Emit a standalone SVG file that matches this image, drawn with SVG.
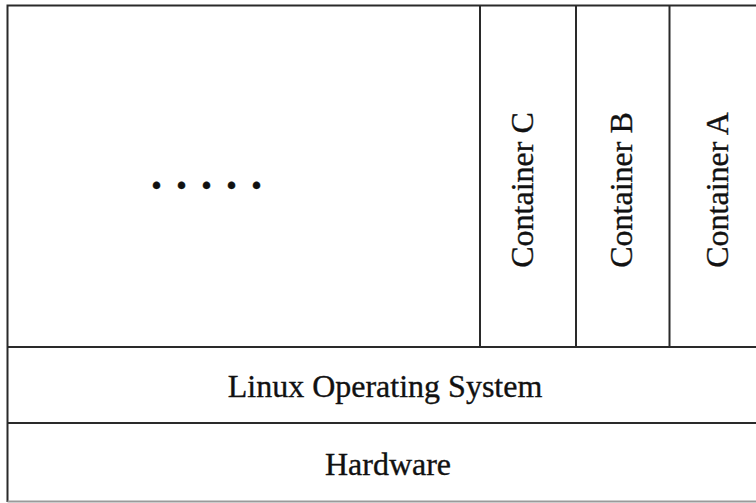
<svg xmlns="http://www.w3.org/2000/svg" width="756" height="503" viewBox="0 0 756 503">
<style>
.ln{stroke:#2a2a2a;stroke-width:2;fill:none}
.t{font-family:"Liberation Serif","Times New Roman",serif;font-size:32px;fill:#111;stroke:#111;stroke-width:0.35}
.v{text-anchor:middle}
</style>
<rect width="756" height="503" fill="#fff"/>
<g id="frame">
<path class="ln" d="M7.5 502V5.5H758"/>
<path d="M7.5 501.5H758" stroke="#9a9a9a" stroke-width="2"/>
</g>
<g id="others">
<text class="t" x="151" y="189" style="font-weight:bold;font-size:44px;letter-spacing:14px">.....</text>
</g>
<g id="containerC">
<line class="ln" x1="480" y1="5.5" x2="480" y2="347"/>
<text class="t v" transform="translate(533,190) rotate(-90)">Container C</text>
</g>
<g id="containerB">
<line class="ln" x1="576" y1="5.5" x2="576" y2="347"/>
<text class="t v" transform="translate(632,190) rotate(-90)">Container B</text>
</g>
<g id="containerA">
<line class="ln" x1="669.5" y1="5.5" x2="669.5" y2="347"/>
<text class="t v" transform="translate(728,190) rotate(-90)">Container A</text>
</g>
<g id="linux">
<line class="ln" x1="7.5" y1="347" x2="758" y2="347"/>
<text class="t" x="385" y="397" text-anchor="middle">Linux Operating System</text>
</g>
<g id="hardware">
<line class="ln" x1="7.5" y1="423" x2="758" y2="423"/>
<text class="t" x="388" y="475" text-anchor="middle">Hardware</text>
</g>
<g id="connectors"/>
</svg>
